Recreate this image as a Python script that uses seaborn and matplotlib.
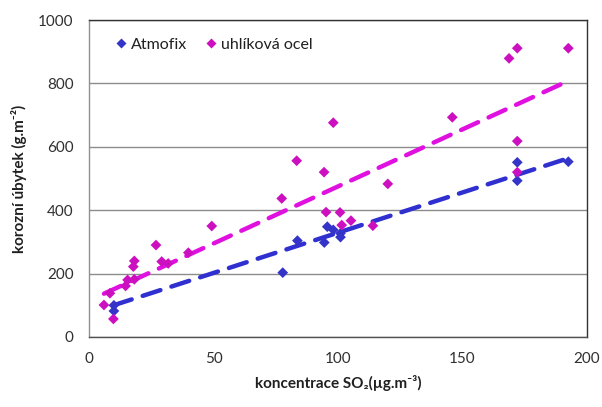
import numpy as np
import pandas as pd
import matplotlib
matplotlib.use("Agg")
import matplotlib.pyplot as plt
import seaborn as sns

# SO2 concentration (µg/m3) and corrosion loss (g/m2)
atmofix_so2 = [10, 10, 77.8, 83.7, 94.5, 95.7, 98.1, 101, 101, 172, 172, 192.5]
atmofix_loss = [82, 100, 203, 304, 298, 348, 338, 315, 327, 551, 493, 553]

ocel_so2 = [6, 8.4, 9.8, 14.7, 15.5, 17.8, 18.2, 18.2, 26.9, 29.2, 31.8, 39.9,
            49.3, 77.4, 83.4, 94.4, 95.2, 98.1, 100.8, 101.5, 105.2, 114,
            120, 145.9, 168.7, 172, 172, 172, 192.5]
ocel_loss = [101, 138, 57, 161, 180, 222, 240, 182, 290, 238, 232, 266,
             350, 437, 556, 520, 394, 676, 393, 353, 367, 351,
             483, 693, 879, 911, 618, 520, 911]

# linear trend lines: (slope, intercept)
atmofix_trend = (2.54, 75)
ocel_trend = (3.6, 115)

series_names = ["Atmofix", "uhlíková ocel"]
x_ticks = [0, 50, 100, 150, 200]
y_ticks = [0, 200, 400, 600, 800, 1000]

df = pd.concat([
    pd.DataFrame({"so2": atmofix_so2, "loss": atmofix_loss, "material": series_names[0]}),
    pd.DataFrame({"so2": ocel_so2, "loss": ocel_loss, "material": series_names[1]}),
], ignore_index=True)

sns.set_theme(style="white")
plt.rcParams["font.family"] = ["Lato", "DejaVu Sans"]

marker_colors = {series_names[0]: "#3434c8", series_names[1]: "#cc10c0"}
line_colors = {series_names[0]: "#3030d0", series_names[1]: "#e010e0"}
trends = {series_names[0]: atmofix_trend, series_names[1]: ocel_trend}

fig = plt.figure(figsize=(6.02, 4.07), dpi=100)
ax = fig.add_axes([89 / 602, 1 - 337 / 407, (587 - 89) / 602, (337 - 20) / 407])

# trend lines spanning each series' SO2 range
for name in series_names:
    sub = df[df["material"] == name]
    slope, intercept = trends[name]
    xs = np.array([sub["so2"].min(), sub["so2"].max()])
    line_df = pd.DataFrame({"so2": xs, "loss": slope * xs + intercept})
    sns.lineplot(data=line_df, x="so2", y="loss", ax=ax, color=line_colors[name],
                 lw=3.2, dashes=(4.2, 2.6), dash_capstyle="round", zorder=2,
                 legend=False)

sns.scatterplot(data=df, x="so2", y="loss", hue="material", palette=marker_colors,
                marker="D", s=30, edgecolor="none", ax=ax, zorder=3)

ax.set_xlim(0, 200)
ax.set_ylim(0, 1000)
ax.set_xticks(x_ticks)
ax.set_yticks(y_ticks)
ax.tick_params(axis="both", labelsize=11, colors="#404040", length=5, width=0.8,
               direction="out", pad=6)
for lbl in ax.get_xticklabels() + ax.get_yticklabels():
    lbl.set_color("#303030")

ax.yaxis.grid(True, color="#8c8c8c", lw=1.0)
ax.xaxis.grid(False)
ax.set_axisbelow(True)

for side in ["top", "right"]:
    ax.spines[side].set_color("#333333")
    ax.spines[side].set_linewidth(1.0)
ax.spines["left"].set_color("#909090")
ax.spines["bottom"].set_color("#505050")
for side in ["left", "bottom"]:
    ax.spines[side].set_linewidth(1.0)

ax.set_xlabel("koncentrace SO₂(µg.m⁻³)", fontsize=11, fontweight="bold",
              color="#202020", labelpad=6)
ax.set_ylabel("korozní úbytek (g.m⁻²)", fontsize=11, fontweight="bold",
              color="#202020", labelpad=8)

leg = ax.legend(loc="upper left", bbox_to_anchor=(0.02, 0.99), ncol=2, frameon=False,
                fontsize=11.5, handletextpad=0.1, columnspacing=1.0,
                markerscale=0.9, handlelength=1.0)
for t in leg.get_texts():
    t.set_color("#202020")

fig.savefig("out.png", dpi=100)
